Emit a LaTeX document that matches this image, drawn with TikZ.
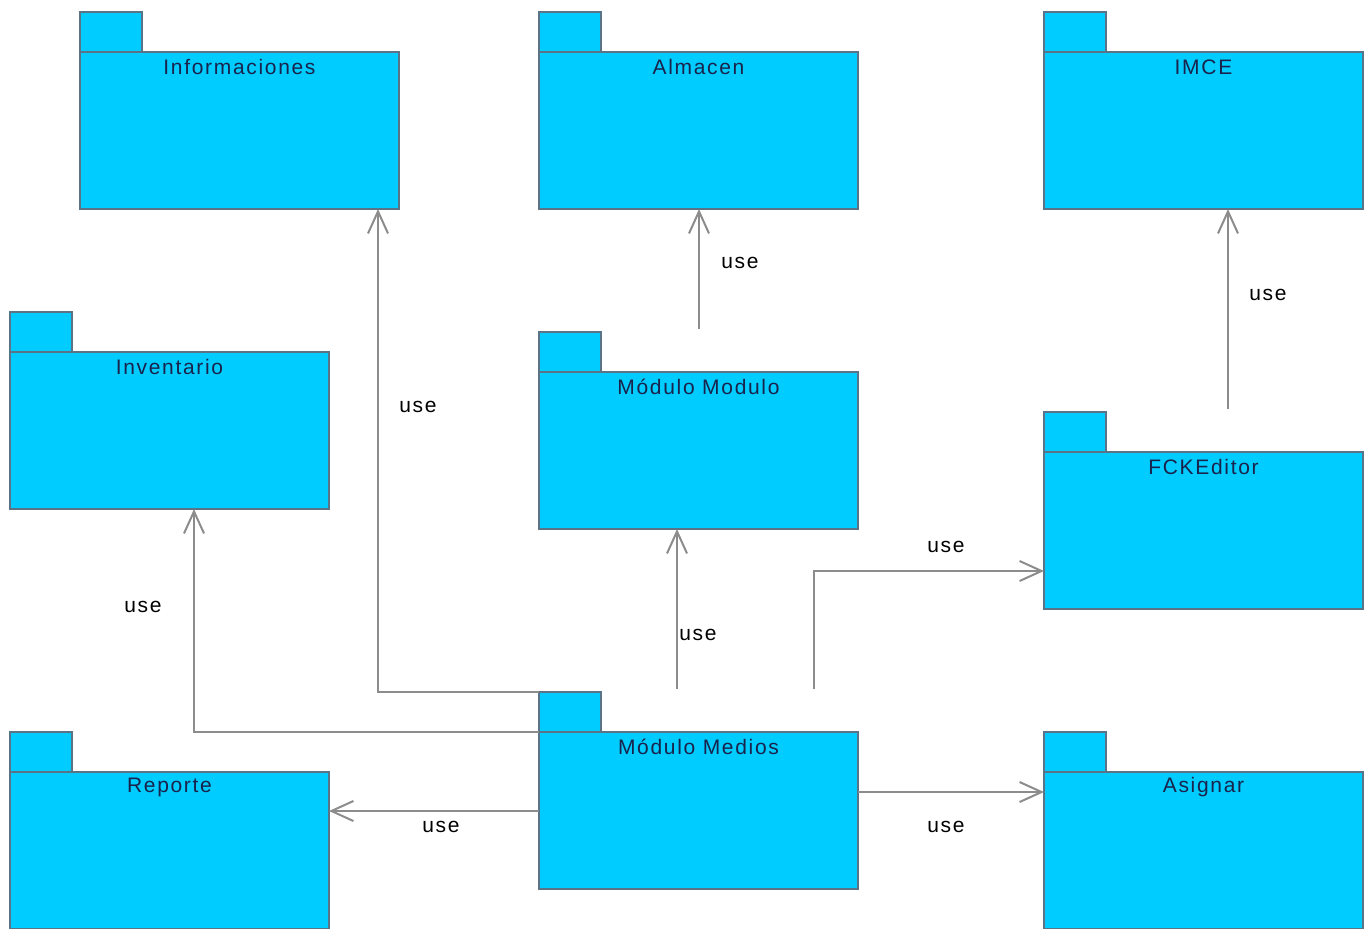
\documentclass[tikz,border=0pt]{standalone}
\usepackage{fontspec}
\setmainfont{Liberation Sans}
\newfontfamily\lblfont[LetterSpace=8]{Liberation Sans}
\usetikzlibrary{arrows.meta,calc}
\definecolor{pkgfill}{RGB}{0,204,255}
\definecolor{pkgline}{RGB}{90,115,135}
\definecolor{conn}{RGB}{140,140,140}
\definecolor{txt}{RGB}{25,35,75}
\tikzset{
  pkgbody/.style={draw=pkgline, fill=pkgfill, line width=0.75pt, minimum width=159.5pt, minimum height=78.5pt, anchor=north west, inner sep=0pt, outer sep=0pt},
  pkgtab/.style={draw=pkgline, fill=pkgfill, line width=0.75pt, minimum width=31pt, minimum height=20pt, anchor=south west, inner sep=0pt, outer sep=0pt},
  title/.style={font=\lblfont\fontsize{10.5pt}{12pt}\selectfont, text=txt, inner sep=0pt},
  uselbl/.style={font=\lblfont\fontsize{10.5pt}{12pt}\selectfont, text=black, inner sep=0pt},
  usearrow/.style={draw=conn, line width=1pt, -{Straight Barb[length=11pt,width=10pt,line width=1pt]}}
}
\begin{document}
\begin{tikzpicture}[x=0.5pt,y=-0.5pt]
\useasboundingbox (0,0) rectangle (1370,928);
% packages
\node[pkgbody] (info) at (80,52) {};
\node[pkgtab] (infoT) at (info.north west) {};
\node[title] at ($(info.north)+(0,15)$) {Informaciones};

\node[pkgbody] (alm) at (539,52) {};
\node[pkgtab] (almT) at (alm.north west) {};
\node[title] at ($(alm.north)+(0,15)$) {Almacen};

\node[pkgbody] (imce) at (1044,52) {};
\node[pkgtab] (imceT) at (imce.north west) {};
\node[title] at ($(imce.north)+(0,15)$) {IMCE};

\node[pkgbody] (inv) at (10,352) {};
\node[pkgtab] (invT) at (inv.north west) {};
\node[title] at ($(inv.north)+(0,15)$) {Inventario};

\node[pkgbody] (mod) at (539,372) {};
\node[pkgtab] (modT) at (mod.north west) {};
\node[title] at ($(mod.north)+(0,15)$) {Módulo Modulo};

\node[pkgbody] (fck) at (1044,452) {};
\node[pkgtab] (fckT) at (fck.north west) {};
\node[title] at ($(fck.north)+(0,15)$) {FCKEditor};

\node[pkgbody] (rep) at (10,772) {};
\node[pkgtab] (repT) at (rep.north west) {};
\node[title] at ($(rep.north)+(0,15)$) {Reporte};

\node[pkgbody] (med) at (539,732) {};
\node[pkgtab] (medT) at (med.north west) {};
\node[title] at ($(med.north)+(0,15)$) {Módulo Medios};

\node[pkgbody] (asg) at (1044,772) {};
\node[pkgtab] (asgT) at (asg.north west) {};
\node[title] at ($(asg.north)+(0,15)$) {Asignar};

% connectors
\draw[usearrow] (medT.north west) -| ($(info.south west)+(298,0)$);
\draw[usearrow] (med.north west) -| ($(inv.south west)+(184,0)$);
\draw[usearrow] ($(med.north west)+(0,79)$) -- ($(rep.north east)+(0,39)$);
\draw[usearrow] ($(med.north west)+(138,-43)$) -- ($(mod.south west)+(138,0)$);
\draw[usearrow] ($(med.north west)+(275,-43)$) |- ($(fck.south west)+(0,-38)$);
\draw[usearrow] ($(med.north east)+(0,60)$) -- ($(asg.north west)+(0,20)$);
\draw[usearrow] ($(mod.north west)+(160,-43)$) -- ($(alm.south west)+(160,0)$);
\draw[usearrow] ($(fck.north west)+(184,-43)$) -- ($(imce.south west)+(184,0)$);

% labels
\node[uselbl] at (418,407) {use};
\node[uselbl] at (143,607) {use};
\node[uselbl] at (441,827) {use};
\node[uselbl] at (698,635) {use};
\node[uselbl] at (946,547) {use};
\node[uselbl] at (946,827) {use};
\node[uselbl] at (740,263) {use};
\node[uselbl] at (1268,295) {use};
\end{tikzpicture}
\end{document}
